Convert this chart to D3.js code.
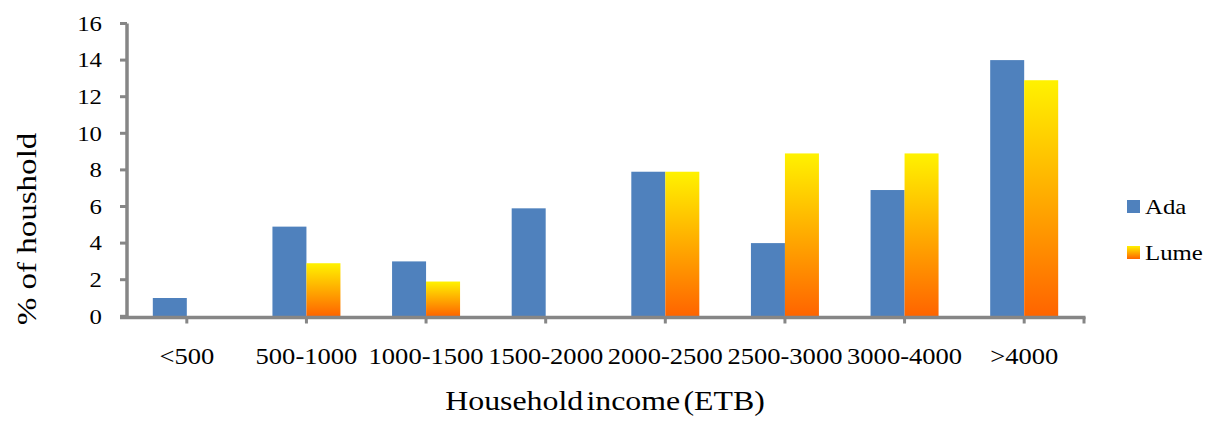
<!DOCTYPE html>
<html>
<head>
<meta charset="utf-8">
<script src="https://cdn.jsdelivr.net/npm/d3@7/dist/d3.min.js"></script>
<style>
  html, body { margin: 0; padding: 0; background: #fff; }
  svg { display: block; }
  text { font-family: "Liberation Serif", "Times New Roman", serif; fill: #000; }
</style>
</head>
<body>
<svg id="chart" width="1210" height="423"></svg>
<script>
// Household income bands (ETB)
const categories = ["<500", "500-1000", "1000-1500", "1500-2000", "2000-2500", "2500-3000", "3000-4000", ">4000"];
// Share of households (%) per district
const adaValues  = [1, 4.9, 3, 5.9, 7.9, 4, 6.9, 14];
const lumeValues = [0, 2.9, 1.9, 0, 7.9, 8.9, 8.9, 12.9];
const seriesNames = ["Ada", "Lume"];
const yTicks = [0, 2, 4, 6, 8, 10, 12, 14, 16];

// category labels as they appear on the axis
const categoryLabels = ["<500", "500-1000", "1000-1500", "1500-2000", "2000-2500", "2500-3000", "3000-4000", ">4000"];

const svg = d3.select("#chart");
const axisColor = "#868686";
const stretch = 1.18;   // wide text rendering

const x = d3.scaleBand().domain(categories).range([127, 1084]).padding(0);
const sub = d3.scaleBand().domain(seriesNames).range([-34, 34]).padding(0);
const y = d3.scaleLinear().domain([0, 16]).range([316.3, 23.5]);

// gradient for the Lume bars (yellow top to orange bottom, per bar)
const defs = svg.append("defs");
const grad = defs.append("linearGradient")
  .attr("id", "lumeGrad")
  .attr("x1", 0).attr("y1", 0).attr("x2", 0).attr("y2", 1);
grad.append("stop").attr("offset", "0%").attr("stop-color", "#FFF200");
grad.append("stop").attr("offset", "100%").attr("stop-color", "#FF6400");

const fills = { Ada: "#4F81BD", Lume: "url(#lumeGrad)" };
const seriesData = { Ada: adaValues, Lume: lumeValues };

// bars
const groups = svg.append("g").selectAll("g")
  .data(categories)
  .join("g")
  .attr("transform", d => `translate(${x(d) + x.bandwidth() / 2},0)`);

groups.selectAll("rect")
  .data((c, i) => seriesNames.map(s => ({ s, v: seriesData[s][i] })))
  .join("rect")
  .filter(d => d.v > 0)
  .attr("x", d => sub(d.s))
  .attr("width", sub.bandwidth())
  .attr("y", d => y(d.v))
  .attr("height", d => y(0) - y(d.v))
  .attr("fill", d => fills[d.s]);

// y axis
const yAxis = svg.append("g");
yAxis.append("line")
  .attr("x1", 127).attr("x2", 127)
  .attr("y1", y(16)).attr("y2", y(0) + 1)
  .attr("stroke", axisColor).attr("stroke-width", 3.5);
yAxis.selectAll("line.tick")
  .data(yTicks)
  .join("line")
  .attr("class", "tick")
  .attr("x1", 120).attr("x2", 127)
  .attr("y1", d => y(d)).attr("y2", d => y(d))
  .attr("stroke", axisColor).attr("stroke-width", 3);
yAxis.selectAll("text")
  .data(yTicks)
  .join("text")
  .attr("transform", d => `translate(102,${y(d)}) scale(${stretch},1)`)
  .attr("dy", "0.35em")
  .attr("text-anchor", "end")
  .attr("font-size", 21)
  .text(d => d);

// x axis
const xAxis = svg.append("g");
xAxis.append("line")
  .attr("x1", 120).attr("x2", 1085.5)
  .attr("y1", 317.5).attr("y2", 317.5)
  .attr("stroke", axisColor).attr("stroke-width", 3.5);
const xTickPositions = categories.map(c => x(c) + x.bandwidth() / 2).concat([x.range()[1]]);
xAxis.selectAll("line.tick")
  .data(xTickPositions)
  .join("line")
  .attr("class", "tick")
  .attr("x1", d => d).attr("x2", d => d)
  .attr("y1", 317).attr("y2", 323.5)
  .attr("stroke", axisColor).attr("stroke-width", 3);
xAxis.selectAll("text")
  .data(categories)
  .join("text")
  .attr("transform", d => `translate(${x(d) + x.bandwidth() / 2},364) scale(${stretch},1)`)
  .attr("text-anchor", "middle")
  .attr("font-size", 22.5)
  .text((d, i) => categoryLabels[i]);

// axis titles
svg.append("text")
  .attr("transform", `translate(605,410) scale(${stretch},1)`)
  .attr("text-anchor", "middle")
  .attr("font-size", 27)
  .attr("word-spacing", -4)
  .text("Household income (ETB)");

svg.append("text")
  .attr("transform", `translate(36,229) rotate(-90) scale(${stretch},1)`)
  .attr("text-anchor", "middle")
  .attr("font-size", 28)
  .text("% of houshold");

// legend
const legend = svg.append("g");
const legendRows = [
  { name: "Ada", y: 200 },
  { name: "Lume", y: 246 }
];
legend.selectAll("rect")
  .data(legendRows)
  .join("rect")
  .attr("x", 1127).attr("y", d => d.y)
  .attr("width", 13).attr("height", 13)
  .attr("fill", d => fills[d.name]);
legend.selectAll("text")
  .data(legendRows)
  .join("text")
  .attr("transform", d => `translate(1145,${d.y + 14}) scale(${stretch},1)`)
  .attr("font-size", 21)
  .text(d => d.name);
</script>
</body>
</html>
